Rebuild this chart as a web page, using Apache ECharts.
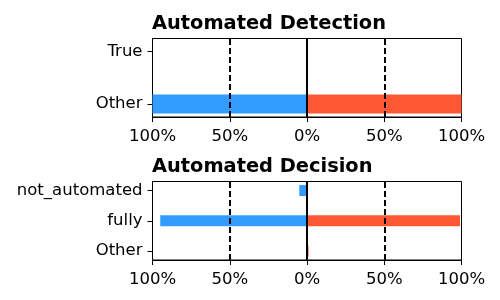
<!DOCTYPE html>
<html>
<head>
<meta charset="utf-8">
<script src="https://cdn.jsdelivr.net/npm/echarts@6/dist/echarts.min.js"></script>
<style>html,body{margin:0;padding:0;background:#fff}#c{width:500px;height:300px}</style>
</head>
<body>
<div id="c"></div>
<script>
// ---- data ----
const detCategories = ['Other', 'True'];
const detLeft = [100, 0];      // blue, drawn to the left of 0
const detRight = [100, 0];     // red, drawn to the right of 0
const decCategories = ['Other', 'fully', 'not_automated'];
const decLeft = [0, 95, 5];
const decRight = [1, 99, 0];
const xTickValues = [-100, -50, 0, 50, 100];
const titles = ['Automated Detection', 'Automated Decision'];

const BLUE = '#339DFF', RED = '#FF5733';
const FONT = 'DejaVu Sans';

// Build a padded category axis (matplotlib-like y margins)
function padAxis(cats, pad, step) {
  const total = (cats.length - 1) + 2 * pad;
  const count = Math.round(total / step) + 1;
  const labels = new Array(count).fill('');
  const idx = cats.map((c, i) => Math.round((pad + i) / step));
  idx.forEach((k, i) => { labels[k] = cats[i]; });
  return { labels, idx, count };
}
function spread(ax, vals, sign) {
  const arr = new Array(ax.count).fill(null);
  ax.idx.forEach((k, i) => { arr[k] = sign * vals[i]; });
  return arr;
}

const axTop = padAxis(detCategories, 0.25, 0.25);
const axBot = padAxis(decCategories, 0.3, 0.1);

const grids = [
  { left: 152.5, top: 38.5, width: 309, height: 78.5 },
  { left: 152.5, top: 181.5, width: 309, height: 78.5 }
];

function xAxis(i) {
  return {
    type: 'value', gridIndex: i, min: -100, max: 100, interval: 50,
    axisLine: { show: true, onZero: false, lineStyle: { color: '#000', width: 1 } },
    axisTick: { show: true, length: 5, lineStyle: { color: '#000' } },
    splitLine: { show: false },
    axisLabel: { color: '#000', fontFamily: FONT, fontSize: 16.5, margin: 11,
      formatter: v => xTickValues.includes(v) ? Math.abs(v) + '%' : '' }
  };
}
function yAxis(i, ax) {
  return {
    type: 'category', gridIndex: i, data: ax.labels, boundaryGap: false,
    axisLine: { show: true, onZero: false, lineStyle: { color: '#000', width: 1 } },
    axisTick: { show: true, length: 5, interval: (idx, v) => ax.labels[idx] !== '', lineStyle: { color: '#000' } },
    axisLabel: { color: '#000', fontFamily: FONT, fontSize: 16.5, margin: 10,
      interval: (idx, v) => ax.labels[idx] !== '' },
    splitLine: { show: false }
  };
}
function markLines() {
  return {
    silent: true, symbol: 'none', label: { show: false }, z: 10,
    data: [
      { xAxis: -50, lineStyle: { type: [6, 3], color: '#000', width: 2 } },
      { xAxis: 50, lineStyle: { type: [6, 3], color: '#000', width: 2 } },
      { xAxis: 0, lineStyle: { type: 'solid', color: '#000', width: 2 } }
    ]
  };
}
function series(i, ax, left, right, bw) {
  return [
    { type: 'bar', xAxisIndex: i, yAxisIndex: i, data: spread(ax, left, -1),
      itemStyle: { color: BLUE }, barWidth: bw, barGap: '-100%', markLine: markLines() },
    { type: 'bar', xAxisIndex: i, yAxisIndex: i, data: spread(ax, right, 1),
      itemStyle: { color: RED }, barWidth: bw, barGap: '-100%' }
  ];
}

const chart = echarts.init(document.getElementById('c'), null, { renderer: 'canvas' });
const titleStyle = { fontFamily: FONT, fontSize: 19.4, fontWeight: 'bold', color: '#000' };
chart.setOption({
  animation: false,
  backgroundColor: '#fff',
  title: [
    { text: titles[0], left: 152, top: 14, padding: 0, textStyle: titleStyle },
    { text: titles[1], left: 152, top: 157, padding: 0, textStyle: titleStyle }
  ],
  grid: grids.map(g => Object.assign({ show: true, borderColor: '#000', borderWidth: 1, backgroundColor: 'transparent' }, g)),
  xAxis: [xAxis(0), xAxis(1)],
  yAxis: [yAxis(0, axTop), yAxis(1, axBot)],
  series: [].concat(series(0, axTop, detLeft, detRight, 19), series(1, axBot, decLeft, decRight, 11))
});
</script>
</body>
</html>
